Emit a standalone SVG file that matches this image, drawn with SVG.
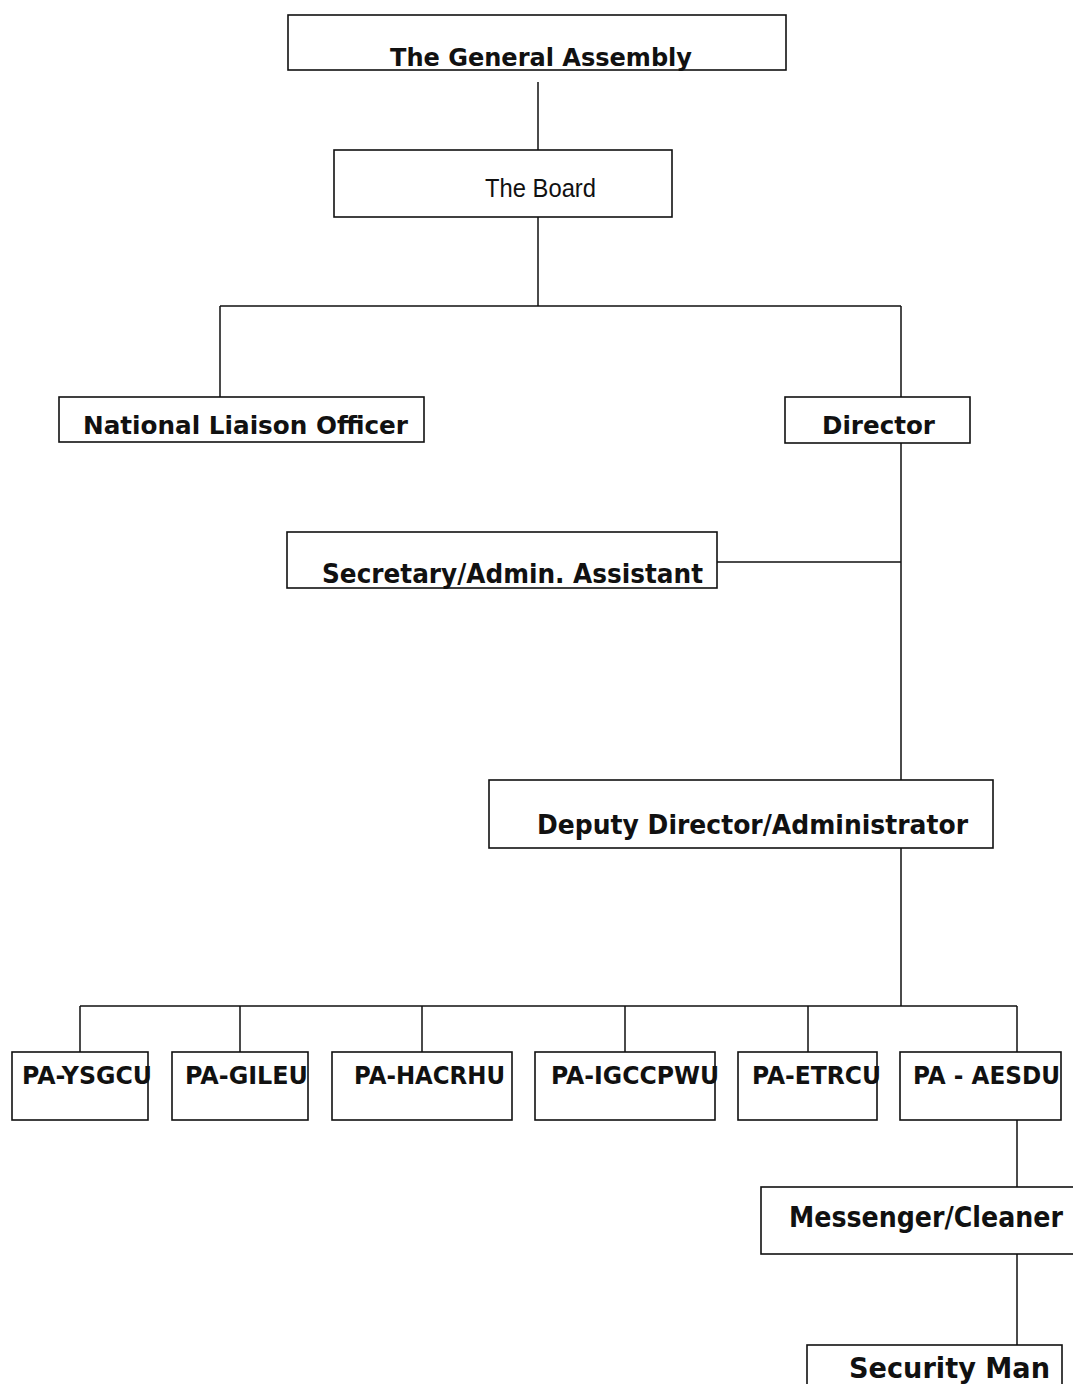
<svg xmlns="http://www.w3.org/2000/svg" width="1073" height="1384" viewBox="0 0 1073 1384">
<style>
.box{fill:#fff;stroke:#111;stroke-width:1.6}
.t{font-family:"DejaVu Sans",Verdana,sans-serif;font-weight:bold;fill:#111}
.a{font-family:"Liberation Sans",Arial,sans-serif;fill:#111}
.c{stroke:#111;stroke-width:1.5;fill:none}
</style>
<rect width="1073" height="1384" fill="#fff"/>
<g id="connectors">
<path class="c" d="M538 82V150M538 217V306M220 306H901M220 306V397M901 306V397M901 443V780M717 562H901M901 848V1006M80 1006H1017M80 1006V1052M240 1006V1052M422 1006V1052M625 1006V1052M808 1006V1052M1017 1006V1052M1017 1120V1187M1017 1254V1345"/>
</g>
<g id="general-assembly"><rect class="box" x="288" y="15" width="498" height="55"/><text class="t" x="390" y="66" font-size="24" textLength="302" lengthAdjust="spacingAndGlyphs">The General Assembly</text></g>
<g id="board"><rect class="box" x="334" y="150" width="338" height="67"/><text class="a" x="485" y="197" font-size="26" textLength="111" lengthAdjust="spacingAndGlyphs">The Board</text></g>
<g id="nlo"><rect class="box" x="59" y="397" width="365" height="45"/><text class="t" x="83" y="434" font-size="24" textLength="325" lengthAdjust="spacingAndGlyphs">National Liaison Officer</text></g>
<g id="director"><rect class="box" x="785" y="397" width="185" height="46"/><text class="t" x="822" y="434" font-size="24" textLength="113" lengthAdjust="spacingAndGlyphs">Director</text></g>
<g id="secretary"><rect class="box" x="287" y="532" width="430" height="56"/><text class="t" x="322" y="583" font-size="26" textLength="381" lengthAdjust="spacingAndGlyphs">Secretary/Admin. Assistant</text></g>
<g id="deputy"><rect class="box" x="489" y="780" width="504" height="68"/><text class="t" x="537" y="834" font-size="27" textLength="431" lengthAdjust="spacingAndGlyphs">Deputy Director/Administrator</text></g>
<g id="pa-ysgcu"><rect class="box" x="12" y="1052" width="136" height="68"/><text class="t" x="22" y="1084" font-size="24" textLength="130" lengthAdjust="spacingAndGlyphs">PA-YSGCU</text></g>
<g id="pa-gileu"><rect class="box" x="172" y="1052" width="136" height="68"/><text class="t" x="185" y="1084" font-size="24" textLength="123" lengthAdjust="spacingAndGlyphs">PA-GILEU</text></g>
<g id="pa-hacrhu"><rect class="box" x="332" y="1052" width="180" height="68"/><text class="t" x="354" y="1084" font-size="24" textLength="151" lengthAdjust="spacingAndGlyphs">PA-HACRHU</text></g>
<g id="pa-igccpwu"><rect class="box" x="535" y="1052" width="180" height="68"/><text class="t" x="551" y="1084" font-size="24" textLength="168" lengthAdjust="spacingAndGlyphs">PA-IGCCPWU</text></g>
<g id="pa-etrcu"><rect class="box" x="738" y="1052" width="139" height="68"/><text class="t" x="752" y="1084" font-size="24" textLength="129" lengthAdjust="spacingAndGlyphs">PA-ETRCU</text></g>
<g id="pa-aesdu"><rect class="box" x="900" y="1052" width="161" height="68"/><text class="t" x="913" y="1084" font-size="24" textLength="147" lengthAdjust="spacingAndGlyphs">PA - AESDU</text></g>
<g id="messenger"><rect class="box" x="761" y="1187" width="320" height="67"/><text class="t" x="789" y="1227" font-size="29" textLength="274" lengthAdjust="spacingAndGlyphs">Messenger/Cleaner</text></g>
<g id="security"><rect class="box" x="807" y="1345" width="255" height="60"/><text class="t" x="849" y="1378" font-size="28" textLength="201" lengthAdjust="spacingAndGlyphs">Security Man</text></g>
</svg>
